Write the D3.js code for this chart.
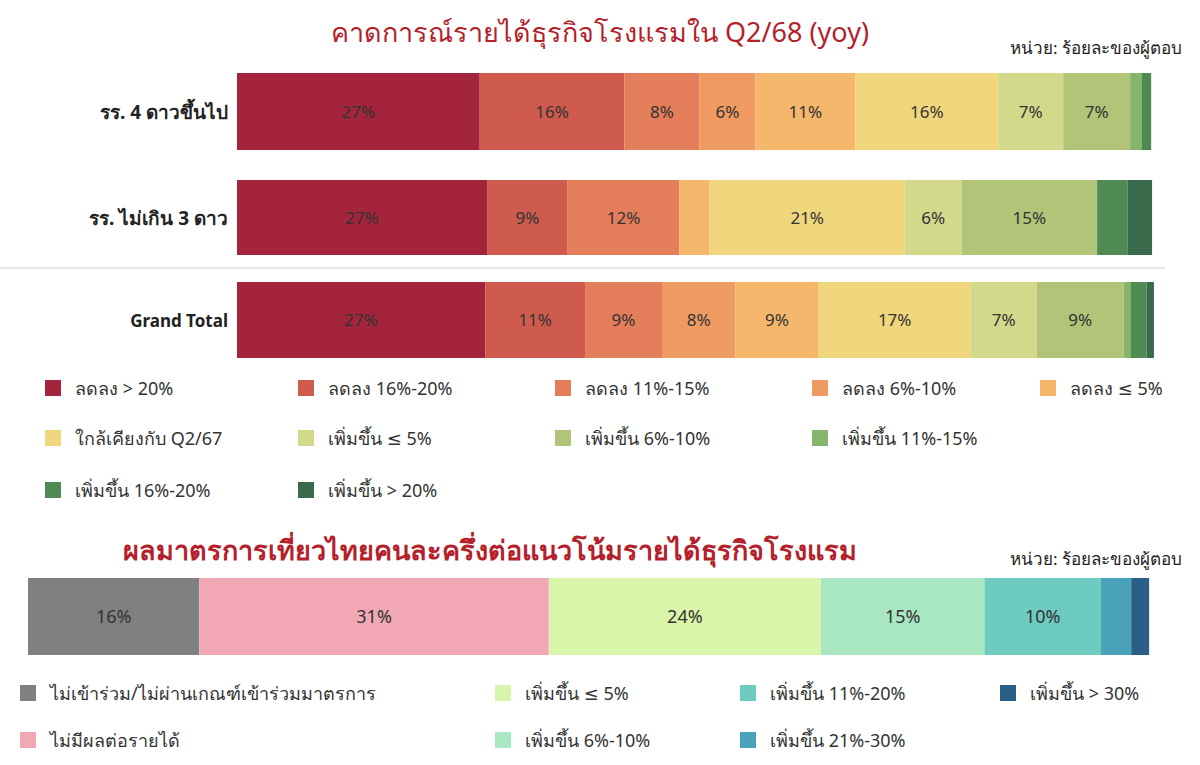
<!DOCTYPE html><html><head><meta charset="utf-8"><script src="https://cdn.jsdelivr.net/npm/d3@7"></script>
<style>body{margin:0;background:#fff}svg{font-family:"Noto Sans","DejaVu Sans",sans-serif}</style></head><body><svg id="c" width="1200" height="765"></svg>
<script>
const rows=["รร. 4 ดาวขึ้นไป","รร. ไม่เกิน 3 ดาว","Grand Total"];
const cats=["ลดลง > 20%","ลดลง 16%-20%","ลดลง 11%-15%","ลดลง 6%-10%","ลดลง ≤ 5%","ใกล้เคียงกับ Q2/67","เพิ่มขึ้น ≤ 5%","เพิ่มขึ้น 6%-10%","เพิ่มขึ้น 11%-15%","เพิ่มขึ้น 16%-20%","เพิ่มขึ้น > 20%"];
const r1=[26.5,15.8,8.2,6.1,10.9,15.6,7.1,7.3,1.3,1.0,0];
const r2=[27.3,8.8,12.2,0,3.3,21.3,6.2,14.8,0,3.3,2.7];
const r3=[27.1,10.9,8.4,8.0,9.1,16.6,7.2,9.5,0.8,1.7,0.8];
const labels1=["27%","16%","8%","6%","11%","16%","7%","7%","","",""];
const labels2=["27%","9%","12%","","","21%","6%","15%","","",""];
const labels3=["27%","11%","9%","8%","9%","17%","7%","9%","","",""];
const colors=["#a3243b","#cf5b4f","#e47e5a","#ee9a60","#f4b76c","#f0d67c","#d3d98b","#b1c478","#86b46b","#4f8a52","#3a6a4c"];
const cats2=["ไม่เข้าร่วม/ไม่ผ่านเกณฑ์เข้าร่วมมาตรการ","ไม่มีผลต่อรายได้","เพิ่มขึ้น ≤ 5%","เพิ่มขึ้น 6%-10%","เพิ่มขึ้น 11%-20%","เพิ่มขึ้น 21%-30%","เพิ่มขึ้น > 30%"];
const v2=[15.3,31.2,24.3,14.6,10.4,2.7,1.6];
const labelsB=["16%","31%","24%","15%","10%","",""];
const colors2=["#808080","#f2a8b4","#d9f5aa","#a9e6c2","#6ecbbf","#4aa2ba","#2b5f87"];
const svg=d3.select("#c");
const red="#b51f2c";
svg.append("text").attr("x",600).attr("y",42).attr("text-anchor","middle").attr("font-size",27).attr("fill",red).text("คาดการณ์รายได้ธุรกิจโรงแรมใน Q2/68 (yoy)");
svg.append("text").attr("x",1182).attr("y",54).attr("text-anchor","end").attr("font-size",17).attr("fill","#222").text("หน่วย: ร้อยละของผู้ตอบ");
const x=d3.scaleLinear().domain([0,100]).range([237,1153]);
const ys=[[73,150],[180,255],[282,358]];
const data=[r1,r2,r3],labs=[labels1,labels2,labels3];
svg.append("line").attr("x1",0).attr("x2",1165).attr("y1",268).attr("y2",268).attr("stroke","#ddd").attr("stroke-width",1.5);
data.forEach((r,i)=>{
  let c=0;const g=svg.append("g");
  r.forEach((v,j)=>{const x0=x(c);c+=v;const x1=x(c);
    g.append("rect").attr("x",x0).attr("y",ys[i][0]).attr("width",Math.max(0,x1-x0)).attr("height",ys[i][1]-ys[i][0]).attr("fill",colors[j]);
    if(labs[i][j])g.append("text").attr("x",(x0+x1)/2).attr("y",(ys[i][0]+ys[i][1])/2+6).attr("text-anchor","middle").attr("font-size",17).attr("fill","#333").text(labs[i][j]);
  });
  svg.append("text").attr("x",228).attr("y",(ys[i][0]+ys[i][1])/2+7).attr("text-anchor","end").attr("font-size",i==2?17:19).attr("font-weight","bold").attr("fill","#222").text(rows[i]);
});
const lx=[45,298,555,812,1040],ly=[388,438,490];
const lpos=[[0,0],[1,0],[2,0],[3,0],[4,0],[0,1],[1,1],[2,1],[3,1],[0,2],[1,2]];
cats.forEach((c,i)=>{const cx=lx[lpos[i][0]],cy=ly[lpos[i][1]];
  svg.append("rect").attr("x",cx).attr("y",cy-8).attr("width",16).attr("height",16).attr("fill",colors[i]);
  svg.append("text").attr("x",cx+30).attr("y",cy+7).attr("font-size",18).attr("fill","#333").text(c);});
svg.append("text").attr("x",490).attr("y",560).attr("text-anchor","middle").attr("font-size",27).attr("font-weight","bold").attr("fill",red).text("ผลมาตรการเที่ยวไทยคนละครึ่งต่อแนวโน้มรายได้ธุรกิจโรงแรม");
svg.append("text").attr("x",1182).attr("y",565).attr("text-anchor","end").attr("font-size",17).attr("fill","#222").text("หน่วย: ร้อยละของผู้ตอบ");
const xb=d3.scaleLinear().domain([0,100]).range([28,1148]);
let c=0;v2.forEach((v,j)=>{const x0=xb(c);c+=v;const x1=xb(c);
  svg.append("rect").attr("x",x0).attr("y",578).attr("width",x1-x0).attr("height",77).attr("fill",colors2[j]);
  if(labelsB[j])svg.append("text").attr("x",(x0+x1)/2).attr("y",623).attr("text-anchor","middle").attr("font-size",18).attr("fill","#333").text(labelsB[j]);});
const bx=[20,495,740,1000],bpos=[[0,0],[0,1],[1,0],[1,1],[2,0],[2,1],[3,0]];
cats2.forEach((t,i)=>{const cx=bx[bpos[i][0]],cy=[693,740][bpos[i][1]];
  svg.append("rect").attr("x",cx).attr("y",cy-8).attr("width",16).attr("height",16).attr("fill",colors2[i]);
  svg.append("text").attr("x",cx+30).attr("y",cy+7).attr("font-size",18).attr("fill","#333").text(t);});
</script></body></html>
